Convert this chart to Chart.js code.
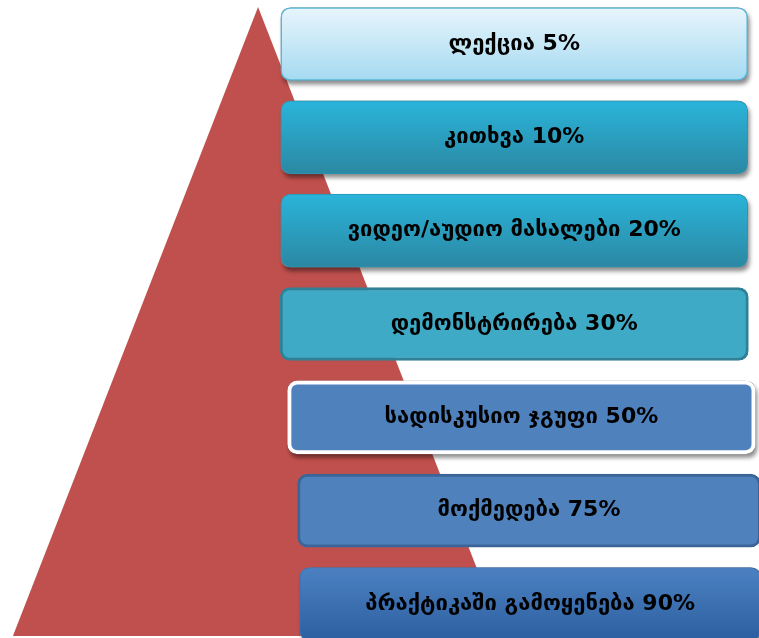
<!DOCTYPE html>
<html>
<head>
<meta charset="utf-8">
<script src="https://cdn.jsdelivr.net/npm/chart.js@4/dist/chart.umd.min.js"></script>
<style>
  html, body { margin: 0; padding: 0; background: #ffffff; }
  #wrap { width: 759px; height: 638px; }
</style>
</head>
<body>
<div id="wrap"><canvas id="c" width="759" height="638"></canvas></div>
<script>
// ---- data ----
const categories = ['ლექცია', 'კითხვა', 'ვიდეო/აუდიო მასალები', 'დემონსტრირება', 'სადისკუსიო ჯგუფი', 'მოქმედება', 'პრაქტიკაში გამოყენება'];
const retention = [5, 10, 20, 30, 50, 75, 90];
// decorative pyramid outline (x: % of width, y: % of height from bottom)
const pyramidX = [1.7, 34.0, 66.3];
const pyramidY = [0.3, 98.9, 0.3];

// ---- layout / style (not data) ----
const boxLeft  = [37.0, 37.0, 37.0, 36.9, 37.9, 39.2, 39.5];
const boxRight = [98.5, 98.5, 98.5, 98.6, 99.5, 100.2, 100.2];
const fillTop    = ['#e8f5fc', '#2ab4da', '#2ab4da', '#3eaac5', '#4f81bd', '#4f81bd', '#4b81c2'];
const fillBottom = ['#a5daf1', '#2b88a3', '#2b88a3', '#3eaac5', '#4f81bd', '#4f81bd', '#2d5fa0'];
const edgeColor  = ['#58b7d9', '#2a94b3', '#2a94b3', '#2e8196', '#ffffff', '#3b6598', '#3a6eae'];
const edgeWidth  = [1.5, 1, 1, 3, 4, 3, 1];
const hasShadow  = [true, true, true, false, true, false, true];
const BAR_H = 73;

const rows = categories.map((_, i) => ({ y: i, x: [boxLeft[i], boxRight[i]] }));
const pyramid = pyramidX.map((x, i) => ({ x: x, y: pyramidY[i] }));

function gradientFor(ctx) {
  const chart = ctx.chart;
  const i = ctx.dataIndex;
  if (!chart.chartArea || !chart.scales.y) return fillTop[i];
  const yc = chart.scales.y.getPixelForValue(i);
  const g = chart.ctx.createLinearGradient(0, yc - BAR_H / 2, 0, yc + BAR_H / 2);
  g.addColorStop(0, fillTop[i]);
  g.addColorStop(1, fillBottom[i]);
  return g;
}

function roundRect(c, x, y, w, h, r) {
  c.beginPath();
  c.moveTo(x + r, y);
  c.lineTo(x + w - r, y);
  c.quadraticCurveTo(x + w, y, x + w, y + r);
  c.lineTo(x + w, y + h - r);
  c.quadraticCurveTo(x + w, y + h, x + w - r, y + h);
  c.lineTo(x + r, y + h);
  c.quadraticCurveTo(x, y + h, x, y + h - r);
  c.lineTo(x, y + r);
  c.quadraticCurveTo(x, y, x + r, y);
  c.closePath();
}

const boxShadowPlugin = {
  id: 'boxShadow',
  beforeDatasetDraw(chart, args) {
    if (args.index !== 0) return;
    const c = chart.ctx;
    args.meta.data.forEach((el, i) => {
      if (!hasShadow[i]) return;
      const p = el.getProps(['x', 'y', 'base', 'height'], true);
      const left = Math.min(p.x, p.base), w = Math.abs(p.x - p.base);
      c.save();
      c.shadowColor = 'rgba(0,0,0,0.45)';
      c.shadowBlur = 4;
      c.shadowOffsetX = 2;
      c.shadowOffsetY = 4;
      c.fillStyle = '#888888';
      roundRect(c, left, p.y - p.height / 2, w, p.height, 10);
      c.fill();
      c.restore();
    });
  }
};

const boxLabelPlugin = {
  id: 'boxLabel',
  afterDatasetsDraw(chart) {
    const meta = chart.getDatasetMeta(0);
    const c = chart.ctx;
    c.save();
    c.font = 'bold 22px "DejaVu Sans", sans-serif';
    c.fillStyle = '#000000';
    c.textAlign = 'center';
    c.textBaseline = 'middle';
    meta.data.forEach((el, i) => {
      const p = el.getProps(['x', 'y', 'base'], true);
      c.fillText(categories[i] + ' ' + retention[i] + '%', (p.x + p.base) / 2, p.y);
    });
    c.restore();
  }
};

new Chart(document.getElementById('c'), {
  type: 'bar',
  data: {
    datasets: [
      {
        type: 'bar',
        indexAxis: 'y',
        xAxisID: 'x',
        yAxisID: 'y',
        data: rows,
        barThickness: BAR_H,
        backgroundColor: gradientFor,
        borderColor: (ctx) => edgeColor[ctx.dataIndex],
        borderWidth: (ctx) => edgeWidth[ctx.dataIndex],
        borderRadius: 10,
        borderSkipped: false,
        clip: false,
        order: 1
      },
      {
        type: 'line',
        indexAxis: 'x',
        xAxisID: 'x',
        yAxisID: 'yt',
        data: pyramid,
        backgroundColor: '#c0504d',
        borderColor: '#c0504d',
        borderWidth: 0,
        pointRadius: 0,
        tension: 0,
        fill: { value: 0.3 },
        clip: false,
        order: 2
      }
    ]
  },
  options: {
    responsive: false,
    animation: false,
    layout: { padding: 0 },
    plugins: { legend: { display: false }, tooltip: { enabled: false } },
    scales: {
      x: { type: 'linear', position: 'bottom', min: 0, max: 100, display: false, offset: false, grace: 0 },
      y: { type: 'linear', position: 'left', min: -0.471, max: 6.364, reverse: true, display: false, offset: false, grace: 0 },
      yt: { type: 'linear', position: 'left', min: 0, max: 100, display: false, offset: false, grace: 0 }
    }
  },
  plugins: [boxShadowPlugin, boxLabelPlugin]
});
</script>
</body>
</html>
